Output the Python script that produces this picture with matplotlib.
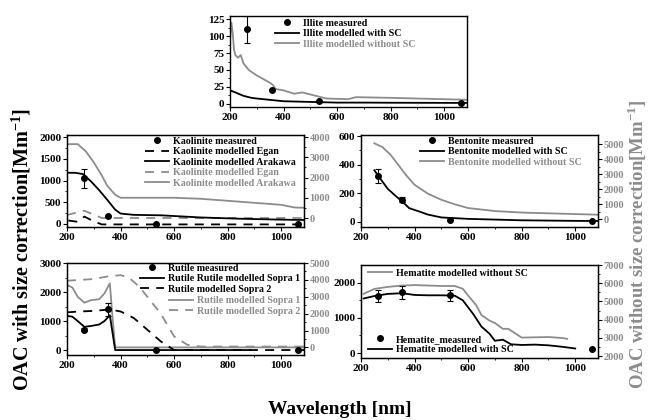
import numpy as np
import matplotlib.pyplot as plt
from matplotlib.lines import Line2D

plt.rcParams['font.family'] = ['Liberation Serif', 'DejaVu Serif']
plt.rcParams['font.weight'] = 'bold'
plt.rcParams['mathtext.fontset'] = 'custom'
plt.rcParams['mathtext.rm'] = 'Liberation Serif:bold'
plt.rcParams['mathtext.bf'] = 'Liberation Serif:bold'

GRAY = '#8c8c8c'

# measured wavelengths
meas_wl = [265, 355, 532, 1064]

# ---- Illite ----
illite_meas = [110, 20, 5, 2]
illite_err = [20, 0, 0, 0]
illite_sc_wl = [200, 220, 250, 280, 300, 350, 400, 500, 600, 700, 800, 1000, 1100]
illite_sc = [20, 17, 12, 9, 8, 6, 4, 3, 2, 2, 1.8, 1.6, 1.5]
illite_nosc_wl = [200, 205, 210, 215, 220, 230, 240, 250, 270, 300, 350, 360, 370, 400, 440,
                  470, 520, 560, 640, 670, 800, 1000, 1100]
illite_nosc = [95, 120, 105, 80, 72, 68, 72, 60, 50, 42, 31, 28, 22, 20, 15,
               17, 12, 8, 7, 10, 9, 7, 6]

# ---- Kaolinite ----
kaol_meas = [1050, 190, 0, 0]
kaol_err = [220, 0, 0, 0]
kaol_ara_wl = [200, 230, 260, 290, 320, 350, 380, 400, 450, 550, 700, 850, 1000, 1100]
kaol_ara = [1180, 1180, 1150, 980, 780, 560, 330, 240, 210, 200, 150, 120, 100, 90]
kaol_egan_wl = [205, 240, 265, 300, 330, 400, 600, 800, 1000, 1100]
kaol_egan = [80, 50, 170, 60, -10, -10, -10, -10, -10, -10]
kaol_egan_g_wl = [200, 265, 330, 400, 600, 800, 1000, 1100]
kaol_egan_g = [150, 360, 0, 0, 0, 0, 0, 0]
kaol_ara_g_wl = [200, 240, 270, 300, 330, 350, 380, 400, 450, 600, 700, 800, 900, 1000, 1050, 1100]
kaol_ara_g = [3650, 3650, 3300, 2750, 2100, 1600, 1150, 1000, 1000, 1000, 950, 850, 750, 650, 520, 500]

# ---- Bentonite ----
bent_meas = [320, 155, 15, 5]
bent_err = [50, 20, 0, 0]
bent_sc_wl = [250, 265, 300, 330, 355, 380, 420, 450, 500, 600, 800, 1000, 1100]
bent_sc = [360, 320, 230, 180, 140, 95, 70, 50, 30, 20, 10, 6, 5]
bent_nosc_wl = [250, 280, 310, 340, 370, 400, 450, 500, 550, 600, 700, 800, 900, 1000, 1100]
bent_nosc = [5050, 4800, 4300, 3600, 2900, 2300, 1700, 1300, 1000, 750, 550, 450, 400, 350, 300]

# ---- Rutile ----
rut_meas = [700, 1400, 0, 0]
rut_err = [60, 220, 0, 0]
rut_s1_wl = [200, 220, 240, 265, 290, 320, 340, 360, 370, 380, 500, 700, 885]
rut_s1 = [1180, 1150, 1000, 800, 830, 880, 1000, 1200, 600, 0, 0, 0, 0]
rut_s2_wl = [200, 250, 300, 360, 400, 450, 500, 550, 600, 700, 900, 1100]
rut_s2 = [1300, 1330, 1350, 1400, 1330, 1100, 700, 300, 0, 0, 0, 0]
rut_s1_g_wl = [200, 220, 240, 265, 290, 320, 340, 360, 370, 380, 500, 700, 900, 1100]
rut_s1_g = [3700, 3550, 3000, 2650, 2800, 2850, 3200, 3800, 1800, 0, 0, 0, 0, 0]
rut_s2_g_wl = [200, 300, 350, 400, 430, 470, 500, 550, 600, 650, 700, 900, 1100]
rut_s2_g = [3950, 4050, 4200, 4280, 4150, 3600, 3000, 2000, 650, 150, 50, 50, 50]

# ---- Hematite ----
hem_meas = [1620, 1720, 1640, 120]
hem_err = [170, 180, 160, 0]
hem_sc_wl = [210, 250, 300, 355, 400, 450, 500, 550, 580, 600, 620, 650, 680, 700,
             730, 760, 800, 850, 900, 950, 1000]
hem_sc = [1550, 1620, 1680, 1700, 1650, 1640, 1640, 1630, 1500, 1300, 1100, 750, 550, 350,
          380, 250, 230, 240, 220, 180, 130]
hem_nosc_wl = [210, 250, 300, 350, 400, 500, 550, 580, 600, 630, 650, 680, 700, 730, 750,
               800, 900, 950, 970]
hem_nosc = [5420, 5690, 5800, 5870, 5900, 5850, 5850, 5700, 5330, 4800, 4250, 3950, 3820, 3500,
            3500, 3020, 3050, 3000, 2950]

XMIN, XMAX = 200, 1085
TICK_FS = 8


def style_ax(ax, yticks, ylim):
    ax.set_xlim(XMIN, XMAX)
    ax.set_ylim(*ylim)
    ax.set_xticks([200, 400, 600, 800, 1000])
    ax.set_xticks([300, 500, 700, 900], minor=True)
    ax.set_yticks(yticks)
    step = yticks[1] - yticks[0]
    ax.set_yticks(np.arange(yticks[0] + step / 2, yticks[-1], step), minor=True)
    ax.tick_params(which='both', direction='out', labelsize=TICK_FS, pad=1)
    ax.tick_params(which='major', length=3, width=0.8)
    ax.tick_params(which='minor', length=1.5, width=0.6)
    for s in ax.spines.values():
        s.set_linewidth(1.0)


def style_twin(tw, yticks, ylim):
    tw.set_ylim(*ylim)
    tw.set_yticks(yticks)
    step = yticks[1] - yticks[0]
    tw.set_yticks(np.arange(yticks[0] + step / 2, yticks[-1], step), minor=True)
    tw.tick_params(which='both', direction='out', labelsize=7.5, labelcolor=GRAY, pad=1)
    tw.tick_params(which='major', length=3, width=0.8)
    tw.tick_params(which='minor', length=1.5, width=0.6)


def meas(ax, y, err):
    ax.errorbar(meas_wl, y, yerr=err, fmt='o', color='black', ms=4, capsize=2,
                elinewidth=0.8, capthick=0.8, zorder=5)


def color_texts(leg, colors):
    for t, c in zip(leg.get_texts(), colors):
        t.set_color(c)


def put_front(ax, tw):
    ax.set_zorder(tw.get_zorder() + 1)
    ax.patch.set_visible(False)


leg_kw = dict(frameon=False, fontsize=7.2, handlelength=2.4, handletextpad=0.4,
              labelspacing=0.15, borderaxespad=0, borderpad=0)
DASH = (0, (5, 4))

fig = plt.figure(figsize=(6.49, 4.20), dpi=100)
W = 0.3652

# Illite
ax = fig.add_axes([0.3544, 0.7452, W, 0.2167])
style_ax(ax, [0, 25, 50, 75, 100, 125], (-4.5, 129.5))
meas(ax, illite_meas, illite_err)
ax.plot(illite_sc_wl, illite_sc, color='black', lw=1.3)
ax.plot(illite_nosc_wl, illite_nosc, color=GRAY, lw=1.3)
handles = [Line2D([], [], marker='o', ls='none', color='black', ms=4),
           Line2D([], [], color='black', lw=1.3), Line2D([], [], color=GRAY, lw=1.3)]
leg = ax.legend(handles, ['Illite measured', 'Illite modelled with SC', 'Illite modelled without SC'],
                loc='upper left', bbox_to_anchor=(0.19, 0.97), **leg_kw)
color_texts(leg, ['black', 'black', GRAY])

# Kaolinite
ax = fig.add_axes([0.1032, 0.4595, W, 0.219])
style_ax(ax, [0, 500, 1000, 1500, 2000], (-70, 2050))
tw = ax.twinx()
style_twin(tw, [0, 1000, 2000, 3000, 4000], (-445, 4100))
tw.plot(kaol_egan_g_wl, kaol_egan_g, color=GRAY, lw=1.3, ls=DASH)
tw.plot(kaol_ara_g_wl, kaol_ara_g, color=GRAY, lw=1.3)
put_front(ax, tw)
meas(ax, kaol_meas, kaol_err)
ax.plot(kaol_egan_wl, kaol_egan, color='black', lw=1.3, ls=DASH)
ax.plot(kaol_ara_wl, kaol_ara, color='black', lw=1.3)
handles = [Line2D([], [], marker='o', ls='none', color='black', ms=4),
           Line2D([], [], color='black', lw=1.3, ls=DASH),
           Line2D([], [], color='black', lw=1.3),
           Line2D([], [], color=GRAY, lw=1.3, ls=DASH),
           Line2D([], [], color=GRAY, lw=1.3)]
leg = ax.legend(handles, ['Kaolinite measured', 'Kaolinite modelled Egan', 'Kaolinite modelled Arakawa',
                          'Kaolinite modelled Egan', 'Kaolinite modelled Arakawa'],
                loc='upper left', bbox_to_anchor=(0.33, 0.98), **leg_kw)
color_texts(leg, ['black', 'black', 'black', GRAY, GRAY])

# Bentonite
ax = fig.add_axes([0.5562, 0.4595, W, 0.219])
style_ax(ax, [0, 200, 400, 600], (-37, 607))
tw = ax.twinx()
style_twin(tw, [0, 1000, 2000, 3000, 4000, 5000], (-510, 5600))
tw.plot(bent_nosc_wl, bent_nosc, color=GRAY, lw=1.3)
put_front(ax, tw)
meas(ax, bent_meas, bent_err)
ax.plot(bent_sc_wl, bent_sc, color='black', lw=1.3)
handles = [Line2D([], [], marker='o', ls='none', color='black', ms=4),
           Line2D([], [], color='black', lw=1.3), Line2D([], [], color=GRAY, lw=1.3)]
leg = ax.legend(handles, ['Bentonite measured', 'Bentonite modelled with SC', 'Bentonite modelled without SC'],
                loc='upper left', bbox_to_anchor=(0.25, 0.98), **leg_kw)
color_texts(leg, ['black', 'black', GRAY])

# Rutile
ax = fig.add_axes([0.1032, 0.1548, W, 0.219])
style_ax(ax, [0, 1000, 2000, 3000], (-170, 3000))
tw = ax.twinx()
style_twin(tw, [0, 1000, 2000, 3000, 4000, 5000], (-450, 5000))
tw.plot(rut_s1_g_wl, rut_s1_g, color=GRAY, lw=1.3)
tw.plot(rut_s2_g_wl, rut_s2_g, color=GRAY, lw=1.3, ls=DASH)
put_front(ax, tw)
meas(ax, rut_meas, rut_err)
ax.plot(rut_s1_wl, rut_s1, color='black', lw=1.3)
ax.plot(rut_s2_wl, rut_s2, color='black', lw=1.3, ls=DASH)
handles = [Line2D([], [], marker='o', ls='none', color='black', ms=4),
           Line2D([], [], color='black', lw=1.3),
           Line2D([], [], color='black', lw=1.3, ls=DASH)]
leg1 = ax.legend(handles, ['Rutile measured', 'Rutile Rutile modelled Sopra 1', 'Rutile modelled Sopra 2'],
                 loc='upper left', bbox_to_anchor=(0.31, 0.99), **leg_kw)
ax.add_artist(leg1)
handles = [Line2D([], [], color=GRAY, lw=1.3), Line2D([], [], color=GRAY, lw=1.3, ls=DASH)]
leg = ax.legend(handles, ['Rutile modelled Sopra 1', 'Rutile modelled Sopra 2'],
                loc='upper right', bbox_to_anchor=(0.985, 0.64), **leg_kw)
color_texts(leg, [GRAY, GRAY])

# Hematite
ax = fig.add_axes([0.5562, 0.1476, W, 0.2214])
style_ax(ax, [0, 1000, 2000], (-140, 2500))
tw = ax.twinx()
style_twin(tw, [2000, 3000, 4000, 5000, 6000, 7000], (1900, 7000))
tw.plot(hem_nosc_wl, hem_nosc, color=GRAY, lw=1.3)
put_front(ax, tw)
meas(ax, hem_meas, hem_err)
ax.plot(hem_sc_wl, hem_sc, color='black', lw=1.3)
leg1 = ax.legend([Line2D([], [], color=GRAY, lw=1.3)], ['Hematite modelled without SC'],
                 loc='upper left', bbox_to_anchor=(0.03, 0.96), **leg_kw)
ax.add_artist(leg1)
handles = [Line2D([], [], marker='o', ls='none', color='black', ms=4),
           Line2D([], [], color='black', lw=1.3)]
ax.legend(handles, ['Hematite_measured', 'Hematite modelled with SC'],
          loc='lower left', bbox_to_anchor=(0.03, 0.04), **leg_kw)

fig.text(0.033, 0.405, 'OAC with size correction[Mm$^{-1}$]', rotation=90,
         ha='center', va='center', fontsize=14.5, fontweight='bold')
fig.text(0.982, 0.419, 'OAC without size correction[Mm$^{-1}$]', rotation=90,
         ha='center', va='center', fontsize=13.5, fontweight='bold', color=GRAY)
fig.text(0.524, 0.024, 'Wavelength [nm]', ha='center', va='center',
         fontsize=14, fontweight='bold')

fig.savefig('out.png', dpi=100)
